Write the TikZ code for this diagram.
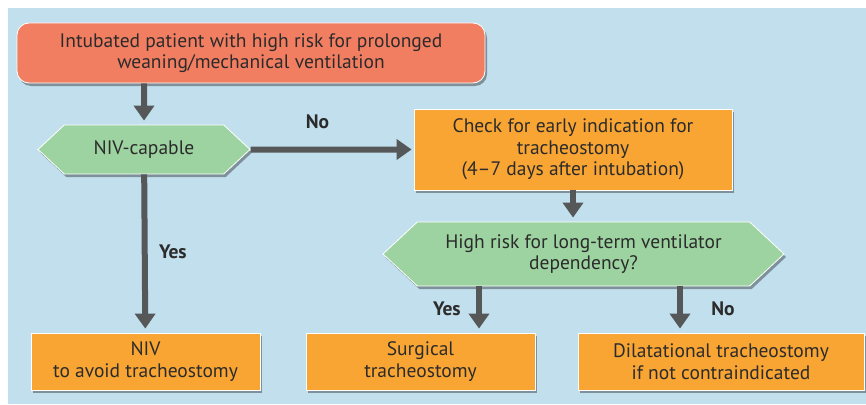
\documentclass[tikz,border=0pt]{standalone}
\usepackage{fontspec}
\setmainfont{PT Sans}
\usetikzlibrary{shapes.symbols,shadows,arrows.meta}
\definecolor{bgblue}{RGB}{194,223,238}
\definecolor{startred}{RGB}{242,126,98}
\definecolor{askgreen}{RGB}{157,211,160}
\definecolor{doorange}{RGB}{249,165,51}
\definecolor{flowgray}{RGB}{85,87,89}
\definecolor{txtgray}{RGB}{43,43,43}

\begin{document}
\begin{tikzpicture}[x=1pt,y=-1pt,
    font=\fontsize{19.5}{21.5}\selectfont, text=txtgray,
    base/.style={draw=white, line width=0.8pt, align=center, inner sep=0pt,
        drop shadow={shadow xshift=2pt, shadow yshift=-3pt, fill=black, opacity=0.35}},
    startbox/.style={base, fill=startred, rounded corners=12pt},
    askbox/.style={base, fill=askgreen, shape=signal, signal to=west and east,
        signal pointer angle=86},
    dobox/.style={base, fill=doorange},
    flow/.style={draw=flowgray, line width=6pt, shorten >=4pt,
        -{Triangle[width=20pt,length=15pt]}},
    lbl/.style={font=\fontsize{19.5}{21.5}\selectfont\bfseries, text=txtgray}]
    \useasboundingbox (0,0) rectangle (866,404);
    \fill [bgblue] (8,8) rectangle (866,404);
    % boxes
    \node [startbox, minimum width=468pt, minimum height=60pt] (start) at (251,53)
        {Intubated patient with high risk for prolonged\\weaning/mechanical ventilation};
    \node [askbox, minimum width=212pt, minimum height=49pt] (niv) at (144,149.5) {NIV-capable};
    \node [dobox, minimum width=318pt, minimum height=81pt] (check) at (573,149.5)
        {Check for early indication for\\tracheostomy\\(4--7 days after intubation)};
    \node [askbox, minimum width=401pt, minimum height=64pt] (risk) at (583.5,254)
        {High risk for long-term ventilator\\dependency?};
    \node [dobox, minimum width=229pt, minimum height=57pt] (nivbox) at (145.5,361.5)
        {NIV\\to avoid tracheostomy};
    \node [dobox, minimum width=229pt, minimum height=57pt] (surg) at (420.5,361.5)
        {Surgical\\tracheostomy};
    \node [dobox, minimum width=286pt, minimum height=57pt] (dil) at (721,361.5)
        {Dilatational tracheostomy\\if not contraindicated};
    \coordinate (yesA) at (479,0);
    \coordinate (noA) at (680,0);
    % arrows
    \draw [flow] (start.south -| niv.north) -- (niv);
    \draw [flow, shorten >=2pt] (niv) -- node [lbl, above=14pt, pos=0.41] {No} (check);
    \draw [flow] (niv) -- node [lbl, right=8pt, pos=0.49] {Yes} (nivbox);
    \draw [flow] (check) -- (check.south |- risk.north);
    \draw [flow] (yesA |- risk.south) -- node [lbl, left=12pt, pos=0.49] {Yes} (yesA |- surg.north);
    \draw [flow] (noA |- risk.south) -- node [lbl, right=25pt, pos=0.49] {No} (noA |- dil.north);
\end{tikzpicture}
\end{document}
